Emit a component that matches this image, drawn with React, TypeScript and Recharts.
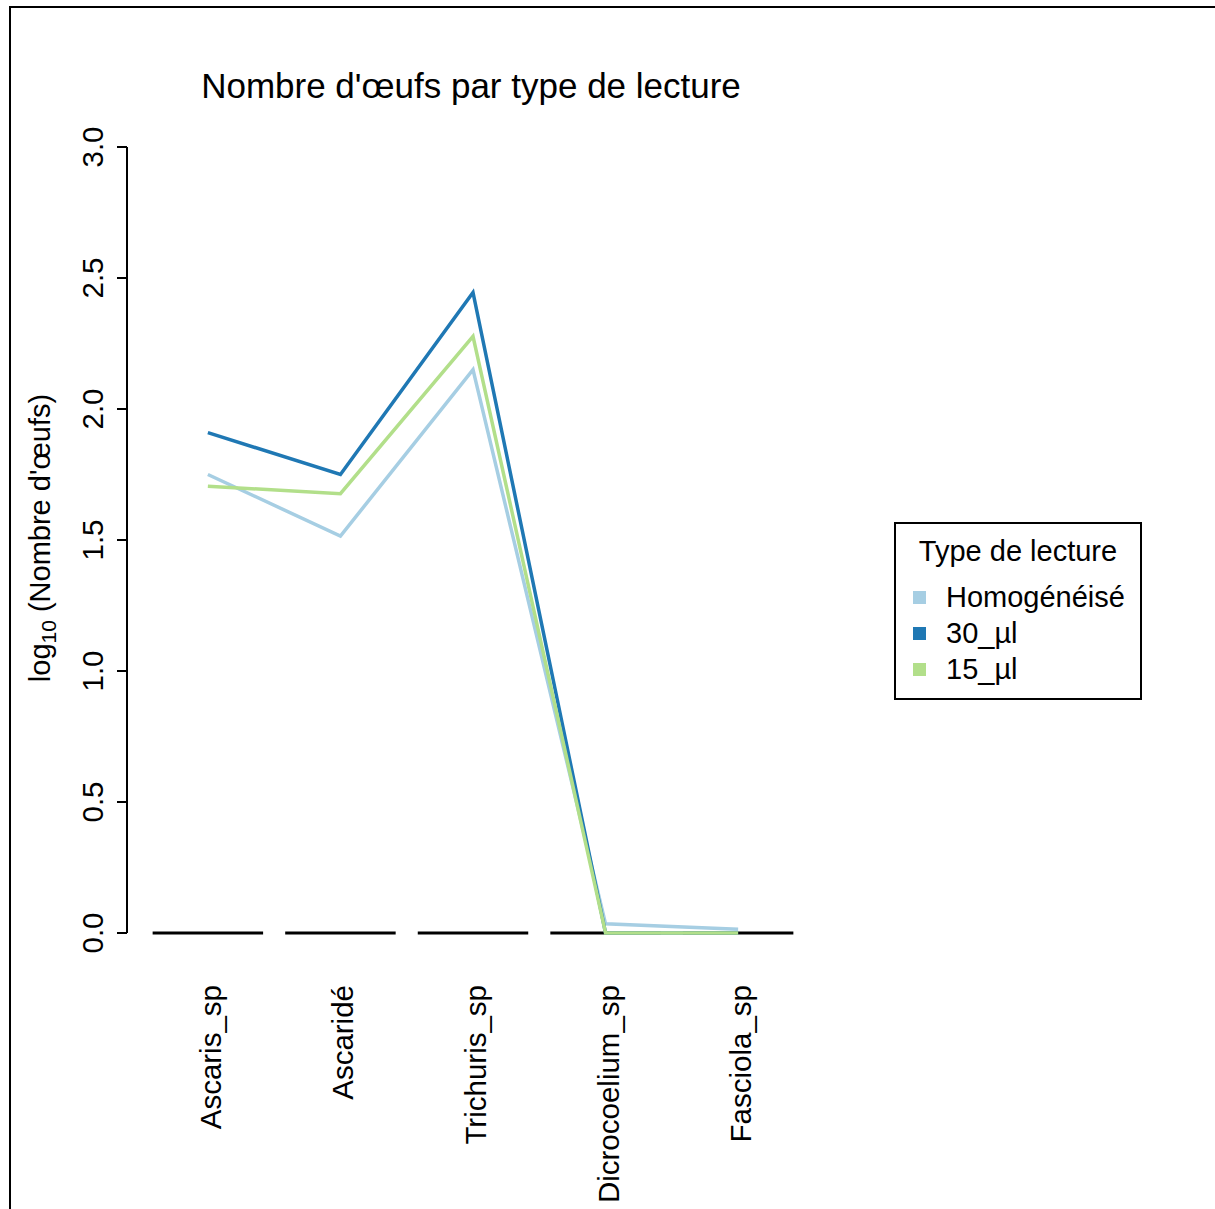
import { LineChart, Line, XAxis, YAxis, ReferenceLine } from 'recharts';

const categories = ['Ascaris_sp', 'Ascaridé', 'Trichuris_sp', 'Dicrocoelium_sp', 'Fasciola_sp'];
// bar centres as in an R barplot (width 1, space 0.2)
const barCenters = [0.7, 1.9, 3.1, 4.3, 5.5];
const homogeneise = [1.75, 1.515, 2.15, 0.035, 0.014];
const ul30 = [1.91, 1.75, 2.445, 0, 0];
const ul15 = [1.705, 1.677, 2.277, 0, 0];
const yTicks = [0, 0.5, 1, 1.5, 2, 2.5, 3];

const seriesInfo = [
  { key: 'homogeneise', name: 'Homogénéisé', color: '#A6CEE3' },
  { key: 'ul30', name: '30_µl', color: '#1F78B4' },
  { key: 'ul15', name: '15_µl', color: '#B2DF8A' },
];

const data = categories.map((c, i) => ({
  name: c,
  x: barCenters[i],
  homogeneise: homogeneise[i],
  ul30: ul30[i],
  ul15: ul15[i],
}));

const FONT = '"Liberation Sans", Arial, Helvetica, sans-serif';

const XTick = ({ x, payload }: any) => {
  const i = barCenters.indexOf(payload.value);
  return (
    <text
      x={x + 13}
      y={985}
      transform={`rotate(-90, ${x + 13}, 985)`}
      textAnchor="end"
      fontSize={29.5}
      fontFamily={FONT}
      fill="#000"
    >
      {categories[i]}
    </text>
  );
};

const YTick = ({ y, payload }: any) => (
  <text
    x={103}
    y={y}
    transform={`rotate(-90, 103, ${y})`}
    textAnchor="middle"
    fontSize={29.5}
    fontFamily={FONT}
    fill="#000"
  >
    {payload.value.toFixed(1)}
  </text>
);

const YLabel = () => (
  <text
    x={50}
    y={538}
    transform="rotate(-90, 50, 538)"
    textAnchor="middle"
    fontSize={29}
    fontFamily={FONT}
    fill="#000"
  >
    log
    <tspan fontSize={21} dy={6}>10</tspan>
    <tspan dy={-6}> (Nombre d'œufs)</tspan>
  </text>
);

export default function App() {
  return (
    <div style={{ position: 'absolute', left: 0, top: 0, width: 1215, height: 1209, overflow: 'hidden', background: '#fff', fontFamily: FONT }}>
      <div style={{ position: 'absolute', left: 9, top: 6, width: 1400, height: 1400, border: '2px solid #000' }} />

      <div style={{ position: 'absolute', left: 0, top: 0 }}>
        <LineChart width={1215} height={1209} data={data} margin={{ top: 147, right: 396, bottom: 76, left: 67 }}>
          <XAxis
            type="number"
            dataKey="x"
            domain={[-0.032, 6.232]}
            ticks={barCenters}
            axisLine={false}
            tickLine={false}
            tick={<XTick />}
            height={200}
            interval={0}
          />
          <YAxis
            type="number"
            domain={[0, 3]}
            ticks={yTicks}
            width={60}
            tickSize={10}
            stroke="#000"
            strokeWidth={2}
            tick={<YTick />}
            interval={0}
            label={<YLabel />}
          />
          {barCenters.map((c) => (
            <ReferenceLine
              key={c}
              segment={[{ x: c - 0.5, y: 0 }, { x: c + 0.5, y: 0 }]}
              stroke="#000"
              strokeWidth={3}
              ifOverflow="visible"
            />
          ))}
          {seriesInfo.map((s) => (
            <Line
              key={s.key}
              type="linear"
              dataKey={s.key}
              name={s.name}
              stroke={s.color}
              strokeWidth={3.5}
              dot={false}
              activeDot={false}
              isAnimationActive={false}
            />
          ))}
        </LineChart>
      </div>

      <div style={{ position: 'absolute', left: 0, top: 66, width: 942, textAlign: 'center', fontSize: 35, color: '#000' }}>
        Nombre d'œufs par type de lecture
      </div>

      <div style={{ position: 'absolute', left: 894, top: 522, width: 244, height: 174, border: '2px solid #000', fontSize: 29, color: '#000' }}>
        <div style={{ position: 'absolute', left: 0, top: 11, width: '100%', textAlign: 'center', lineHeight: '32px' }}>Type de lecture</div>
        {seriesInfo.map((s, i) => (
          <div key={s.key} style={{ position: 'absolute', left: 17, top: 57 + i * 36, height: 32, display: 'flex', alignItems: 'center' }}>
            <span style={{ display: 'inline-block', width: 13, height: 13, background: s.color, marginRight: 20 }} />
            <span style={{ lineHeight: '32px' }}>{s.name}</span>
          </div>
        ))}
      </div>
    </div>
  );
}
